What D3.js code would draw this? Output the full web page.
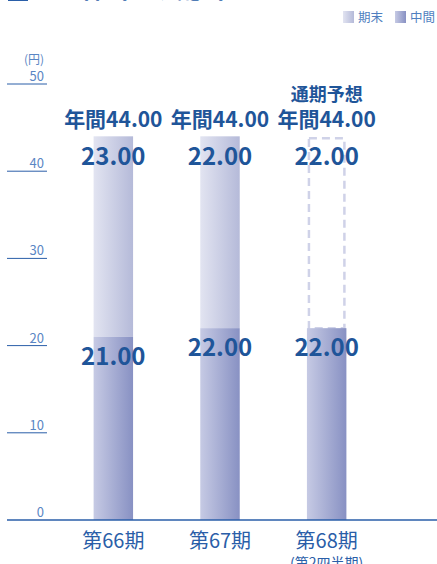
<!DOCTYPE html>
<html lang="ja">
<head>
<meta charset="utf-8">
<title>一株当たり配当金</title>
<style>
body { margin: 0; background: #fff; }
svg { display: block; font-family: "Noto Sans CJK JP", "Noto Sans", sans-serif; }
.tick-label { fill: #5a86c4; font-size: 13px; }
.val { fill: #1f5599; font-weight: bold; font-size: 24px; }
.tot { fill: #1f5599; font-weight: bold; font-size: 21px; }
</style>
</head>
<body>
<svg width="437" height="564"></svg>
<script src="https://cdn.jsdelivr.net/npm/d3@7"></script>
<script>
// data
const periods = ["第66期", "第67期", "第68期"];
const subLabels = ["", "", "(第2四半期)"];
const interim = [21, 22, 22];      // 中間
const yearEnd = [23, 22, 22];      // 期末
const forecast = [false, false, true];
const yTicks = [0, 10, 20, 30, 40, 50];

const svg = d3.select("svg");
const defs = svg.append("defs");

function grad(id, c0, c1) {
  const g = defs.append("linearGradient").attr("id", id)
    .attr("x1", "0%").attr("x2", "100%").attr("y1", "0%").attr("y2", "0%");
  g.append("stop").attr("offset", "0%").attr("stop-color", c0);
  g.append("stop").attr("offset", "100%").attr("stop-color", c1);
}
grad("gEnd", "#e2e4f1", "#b5bad9");
grad("gMid", "#c6cae4", "#8891c3");

const y = d3.scaleLinear().domain([0, 50]).range([520, 84]);
const x = d3.scaleBand().domain(periods).range([60, 380])
  .paddingInner(0.63).paddingOuter(0.315);

// cut-off title at the top
svg.append("rect").attr("x", 8).attr("y", -20).attr("width", 20).attr("height", 21).attr("fill", "#2a5ea8");
svg.append("text").attr("x", 57).attr("y", -2)
  .attr("fill", "#2a5ea8").style("font-size", "24px").style("font-weight", "bold")
  .text("一株当たり配当金");

// legend
const legend = [["期末", "url(#gEnd)", 343], ["中間", "url(#gMid)", 395]];
legend.forEach(function(l) {
  svg.append("rect").attr("x", l[2]).attr("y", 11).attr("width", 11).attr("height", 12).attr("fill", l[1]);
  svg.append("text").attr("x", l[2] + 15).attr("y", 21.5)
    .attr("fill", "#4f7fc0").style("font-size", "12.5px").text(l[0]);
});

// y axis ticks
svg.append("text").attr("class", "tick-label").attr("x", 44).attr("y", 64)
  .attr("text-anchor", "end").style("font-size", "12px").text("(円)");
const tk = svg.selectAll(".tk").data(yTicks).enter().append("g").attr("class", "tk");
tk.filter(function(d) { return d > 0; }).append("line")
  .attr("x1", 7).attr("x2", 47)
  .attr("y1", function(d) { return y(d); }).attr("y2", function(d) { return y(d); })
  .attr("stroke", "#2a5ea8").attr("stroke-width", 1);
tk.append("text").attr("class", "tick-label")
  .attr("x", 44).attr("y", function(d) { return y(d) - 3; })
  .attr("text-anchor", "end").text(function(d) { return d; });

// bars
const data = periods.map(function(p, i) {
  return { p: p, sub: subLabels[i], mid: interim[i], end: yearEnd[i], fc: forecast[i] };
});
const bw = x.bandwidth();

const bars = svg.selectAll(".bar").data(data).enter().append("g").attr("class", "bar");

bars.filter(function(d) { return !d.fc; }).append("rect")
  .attr("x", function(d) { return x(d.p); })
  .attr("width", bw)
  .attr("y", function(d) { return y(d.mid + d.end); })
  .attr("height", function(d) { return y(d.mid) - y(d.mid + d.end); })
  .attr("fill", "url(#gEnd)");

bars.filter(function(d) { return d.fc; }).append("rect")
  .attr("x", function(d) { return x(d.p) + 2; })
  .attr("width", bw - 4)
  .attr("y", function(d) { return y(d.mid + d.end) + 2; })
  .attr("height", function(d) { return y(d.mid) - y(d.mid + d.end) - 2; })
  .attr("fill", "none").attr("stroke", "#cfd2e8").attr("stroke-width", 2.5)
  .attr("stroke-dasharray", "8,5");

bars.append("rect")
  .attr("x", function(d) { return x(d.p); })
  .attr("width", bw)
  .attr("y", function(d) { return y(d.mid); })
  .attr("height", function(d) { return y(0) - y(d.mid); })
  .attr("fill", "url(#gMid)");

// value labels
bars.append("text").attr("class", "val").attr("text-anchor", "middle")
  .attr("x", function(d) { return x(d.p) + bw / 2; })
  .attr("y", function(d) { return y(d.mid + d.end) + 29; })
  .text(function(d) { return d.end.toFixed(2); });
bars.append("text").attr("class", "val").attr("text-anchor", "middle")
  .attr("x", function(d) { return x(d.p) + bw / 2; })
  .attr("y", function(d) { return y(d.mid) + 28; })
  .text(function(d) { return d.mid.toFixed(2); });
bars.append("text").attr("class", "tot").attr("text-anchor", "middle")
  .attr("x", function(d) { return x(d.p) + bw / 2; })
  .attr("y", function(d) { return y(d.mid + d.end) - 9; })
  .text(function(d) { return "年間" + (d.mid + d.end).toFixed(2); });
bars.filter(function(d) { return d.fc; }).append("text")
  .attr("text-anchor", "middle").attr("fill", "#1f5599")
  .style("font-weight", "bold").style("font-size", "18px")
  .attr("x", function(d) { return x(d.p) + bw / 2; })
  .attr("y", function(d) { return y(d.mid + d.end) - 35; })
  .text("通期予想");

// baseline
svg.append("line").attr("x1", 7).attr("x2", 437).attr("y1", y(0)).attr("y2", y(0))
  .attr("stroke", "#2a5ea8").attr("stroke-width", 1.5);

// category labels
bars.append("text").attr("text-anchor", "middle").attr("fill", "#2a5ea8")
  .style("font-size", "20px")
  .attr("x", function(d) { return x(d.p) + bw / 2; })
  .attr("y", 548)
  .text(function(d) { return d.p; });
bars.append("text").attr("text-anchor", "middle").attr("fill", "#2a5ea8")
  .style("font-size", "14px")
  .attr("x", function(d) { return x(d.p) + bw / 2; })
  .attr("y", 568)
  .text(function(d) { return d.sub; });
</script>
</body>
</html>
